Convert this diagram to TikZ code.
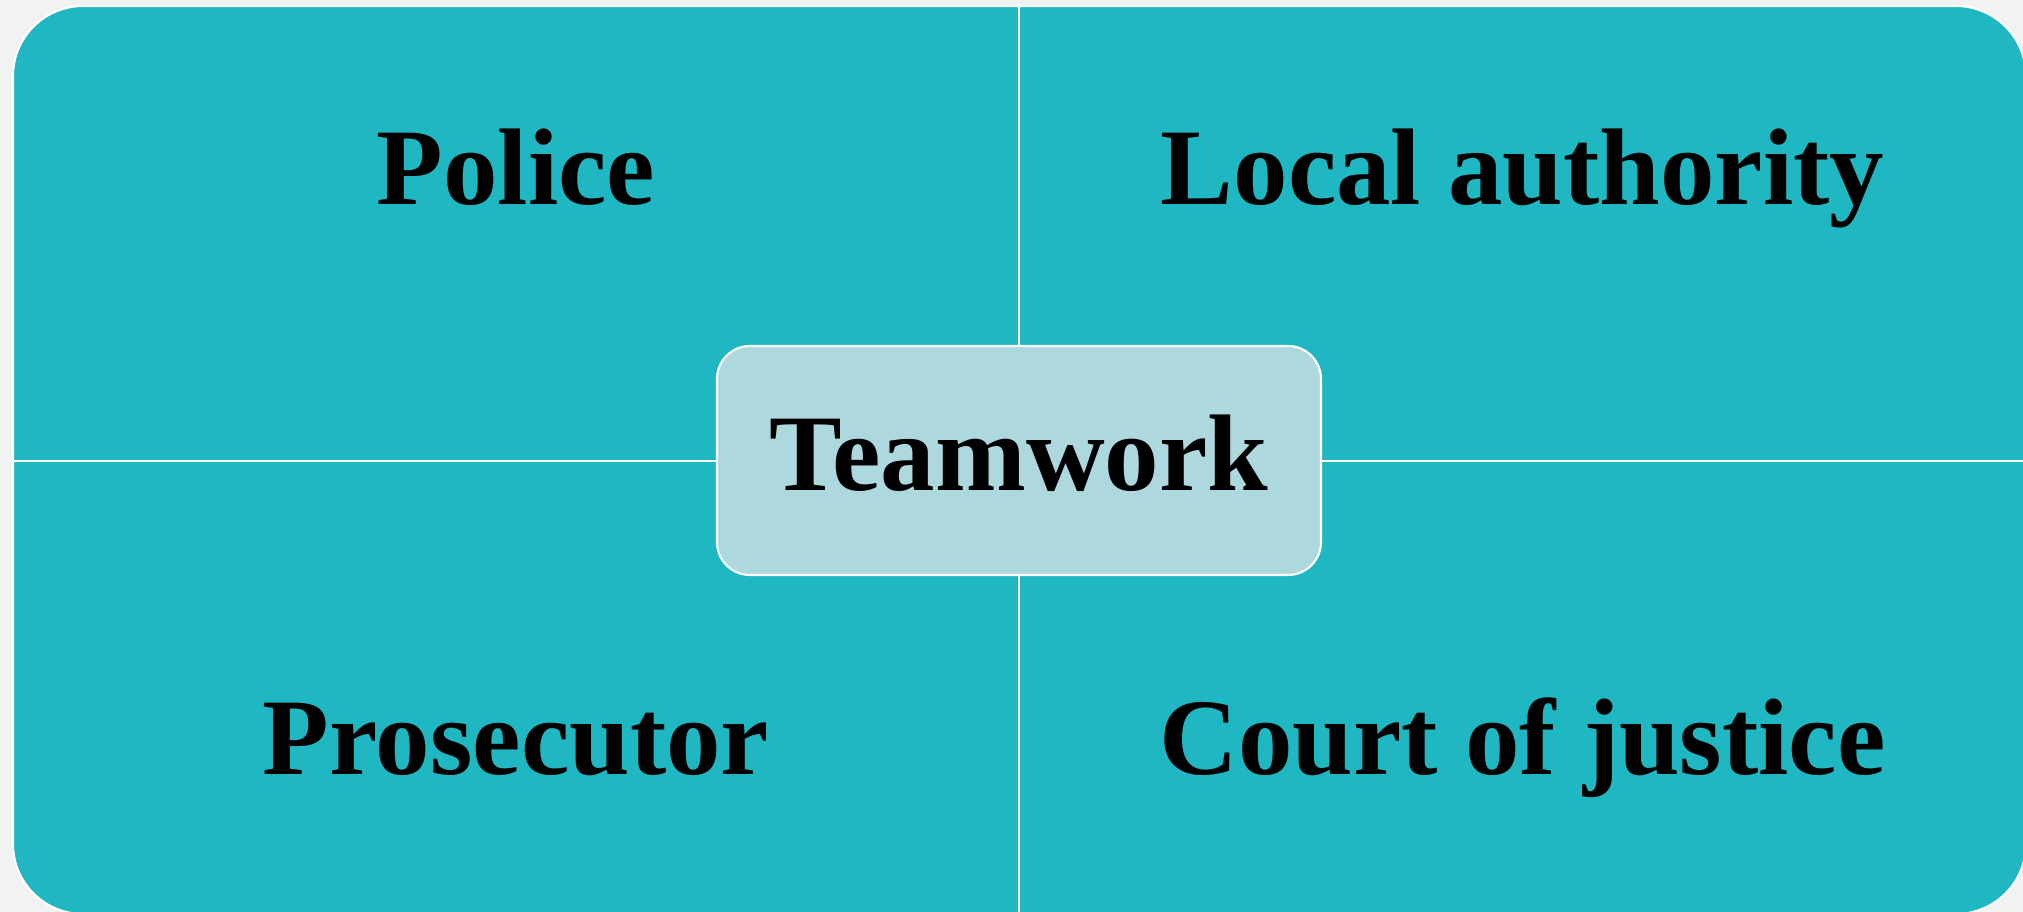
\documentclass[tikz,border=0pt]{standalone}
\usepackage{fontspec}
\setmainfont{Liberation Serif}
\definecolor{paneteal}{RGB}{31,183,193}
\definecolor{hubblue}{RGB}{173,216,222}
\definecolor{pagegray}{RGB}{242,242,242}
\tikzset{
panel/.style={rounded corners=0.7cm, fill=paneteal, draw=white, line width=0.6pt},
hub/.style={rectangle, rounded corners=0.33cm, minimum width=6.04cm, minimum height=2.29cm, text centered, text depth=0.15cm, draw=white, fill=hubblue, line width=0.6pt, font=\bfseries\fontsize{31}{37}\selectfont},
quadtext/.style={anchor=base, font=\bfseries\fontsize{31}{37}\selectfont},
divider/.style={draw=white, line width=0.6pt}}

\begin{document}
\begin{tikzpicture}
\fill[pagegray] (0,0) rectangle (20.23,9.12);
\clip (0,0) rectangle (20.23,9.12);
\draw[panel] (0.13,-0.02) rectangle (20.26,9.06);

\coordinate (ntop) at (10.19,9.06);
\coordinate (nbottom) at (10.19,-0.02);
\coordinate (wedge) at (0.13,4.51);
\coordinate (eedge) at (20.26,4.51);
\draw[divider] (ntop) -- (nbottom);
\draw[divider] (wedge) -- (eedge);

\node (teamwork) [hub] at (10.19,4.515) {Teamwork};

\node (police) [quadtext] at (5.16,7.07) {Police};
\node (localauth) [quadtext] at (15.225,7.07) {Local authority};
\node (prosecutor) [quadtext] at (5.16,1.37) {Prosecutor};
\node (court) [quadtext] at (15.225,1.37) {Court of justice};
\end{tikzpicture}
\end{document}
